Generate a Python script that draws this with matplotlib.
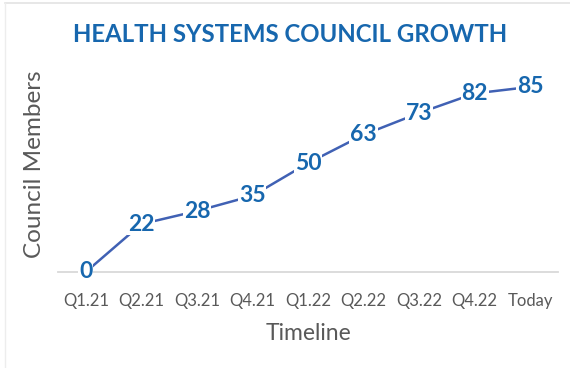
import matplotlib
matplotlib.use('Agg')
import matplotlib.pyplot as plt
from matplotlib.lines import Line2D

quarters = ['Q1.21', 'Q2.21', 'Q3.21', 'Q4.21', 'Q1.22', 'Q2.22', 'Q3.22', 'Q4.22', 'Today']
members = [0, 22, 28, 35, 50, 63, 73, 82, 85]

TITLE_BLUE = '#1767AE'
LINE_BLUE = '#4061B4'
GREY_TEXT = '#595959'

plt.rcParams['font.family'] = ['Lato', 'DejaVu Sans']

fig = plt.figure(figsize=(5.7, 3.68), dpi=100)
ax = fig.add_axes([58 / 570, 1 - 272 / 368, 500 / 570, 196 / 368])

x = list(range(len(quarters)))
ax.plot(x, members, color=LINE_BLUE, linewidth=1.8, zorder=2)

# value labels sit on the points, white box hides the line underneath
for xi, v in zip(x, members):
    ax.text(xi, v, str(v), ha='center', va='center', fontsize=16.5, fontweight='bold',
            color=TITLE_BLUE, zorder=3, clip_on=False,
            bbox=dict(facecolor='white', edgecolor='none', pad=0.5))

ax.set_xlim(-0.5, len(quarters) - 0.5)
ax.set_ylim(0, 90)
ax.set_xticks(x)
ax.set_xticklabels(quarters, fontsize=12, color=GREY_TEXT)
ax.set_yticks([])
ax.tick_params(axis='x', length=0, pad=15)

for side in ['top', 'right', 'left']:
    ax.spines[side].set_visible(False)
ax.spines['bottom'].set_color('#D9D9D9')
ax.spines['bottom'].set_linewidth(1.3)
ax.spines['bottom'].set_zorder(1)

fig.text(309 / 570, 1 - 333 / 368, 'Timeline', ha='center', va='center', fontsize=16.5, color=GREY_TEXT)
fig.text(35 / 570, 1 - 164 / 368, 'Council Members', ha='center', va='center', rotation=90,
         fontsize=17.5, color=GREY_TEXT)
fig.text(290 / 570, 1 - 35 / 368, 'HEALTH SYSTEMS COUNCIL GROWTH', ha='center', va='center',
         fontsize=17.3, fontweight='bold', color=TITLE_BLUE)

# thin chart-area frame along top and left
fig.add_artist(Line2D([5 / 570, 1], [1 - 3 / 368, 1 - 3 / 368], color='#E3E3E3', linewidth=1.2))
fig.add_artist(Line2D([5 / 570, 5 / 570], [0, 1 - 3 / 368], color='#EDEDED', linewidth=1.0))

fig.savefig('out.png', dpi=100)
